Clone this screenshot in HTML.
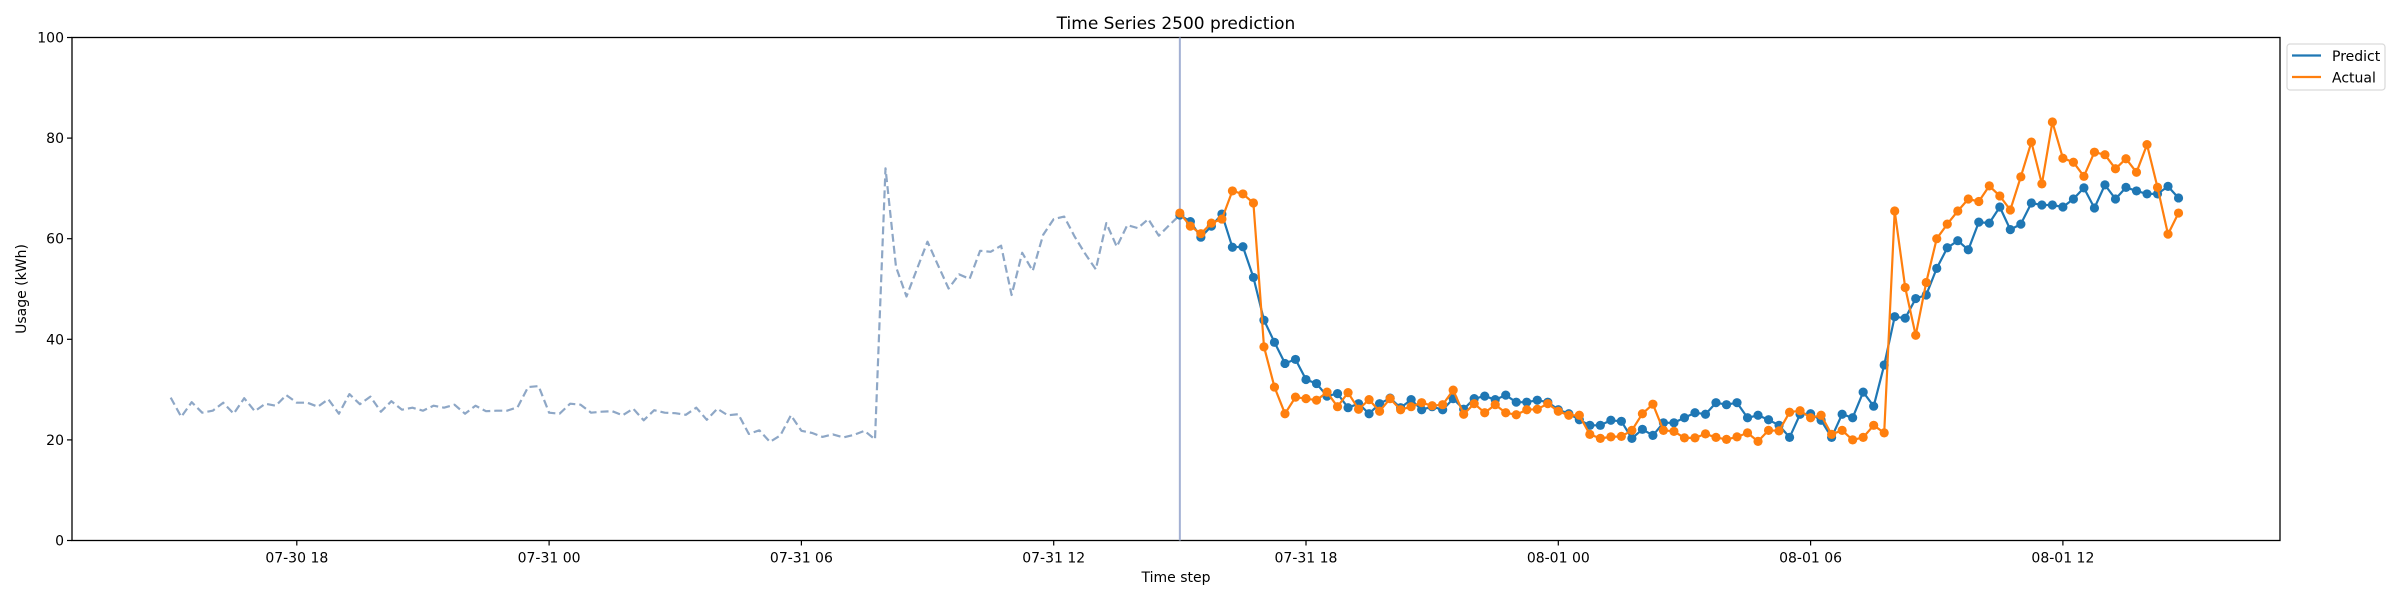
<!DOCTYPE html>
<html><head><meta charset="utf-8"><style>
html,body{margin:0;padding:0;background:#fff;}
svg text{font-family:"DejaVu Sans","Liberation Sans",sans-serif;fill:#000;}
</style></head><body>
<svg id="chart" width="2400" height="600" viewBox="0 0 2400 600" xmlns="http://www.w3.org/2000/svg">
<rect x="0" y="0" width="2400" height="600" fill="#fff"/>
<text x="1176" y="29" font-size="17" text-anchor="middle">Time Series 2500 prediction</text>
<g id="grid"></g>
<text x="1176" y="582" font-size="14" text-anchor="middle">Time step</text>
<text x="0" y="0" font-size="14" text-anchor="middle" transform="translate(26,289) rotate(-90)">Usage (kWh)</text>
<g>
<rect x="2287" y="44" width="98" height="46" rx="3" fill="#fff" stroke="#d9d9d9" stroke-width="1.2"/>
<line x1="2292" y1="55.5" x2="2321" y2="55.5" stroke="#1f77b4" stroke-width="2.2"/>
<text x="2332" y="61" font-size="14">Predict</text>
<line x1="2292" y1="77" x2="2321" y2="77" stroke="#ff7f0e" stroke-width="2.2"/>
<text x="2332" y="82.5" font-size="14">Actual</text>
</g>
</svg>
<script>
const histValues=[28.4,24.6,27.5,25.4,25.8,27.4,25.2,28.3,25.7,27.2,26.8,28.9,27.4,27.4,26.6,28.1,25.2,29.1,27.1,28.6,25.6,27.7,26.0,26.4,25.8,26.8,26.4,27.0,25.2,26.8,25.7,25.8,25.8,26.5,30.5,30.7,25.4,25.2,27.2,27.0,25.4,25.6,25.7,24.9,26.2,23.9,25.9,25.4,25.3,25.0,26.4,24.0,26.2,24.9,25.1,21.2,21.9,19.6,20.9,24.9,21.8,21.4,20.6,21.1,20.5,21.0,21.8,20.1,74.0,54.4,48.5,54.0,59.4,54.7,50.1,52.9,52.0,57.6,57.4,58.6,48.8,57.2,53.6,60.8,63.9,64.4,60.4,57.0,53.9,63.1,58.4,62.7,62.1,63.9,60.6,62.7,64.7];
const predValues=[64.7,63.4,60.3,62.5,64.9,58.3,58.4,52.3,43.8,39.4,35.2,36.0,32.0,31.2,28.7,29.2,26.4,27.2,25.2,27.2,28.3,26.4,28.0,26.0,26.6,26.0,28.2,26.1,28.2,28.7,28.0,28.9,27.5,27.5,27.9,27.5,26.0,25.2,24.0,22.9,22.9,23.9,23.7,20.3,22.1,20.9,23.4,23.4,24.4,25.4,25.1,27.4,27.0,27.4,24.4,24.9,24.0,22.9,20.5,25.1,25.2,23.9,20.5,25.1,24.4,29.5,26.7,34.9,44.5,44.2,48.1,48.8,54.1,58.2,59.6,57.8,63.3,63.1,66.3,61.8,62.9,67.1,66.7,66.7,66.3,67.9,70.1,66.1,70.7,67.9,70.2,69.5,68.9,68.9,70.4,68.1];
const actualValues=[65.1,62.5,61.0,63.1,63.9,69.5,68.9,67.1,38.5,30.5,25.2,28.5,28.2,27.9,29.5,26.6,29.4,26.1,28.0,25.7,28.2,26.0,26.6,27.4,26.8,27.0,29.9,25.1,27.2,25.4,27.0,25.4,25.0,26.0,26.1,27.2,25.7,24.9,24.9,21.1,20.3,20.6,20.7,21.9,25.2,27.1,21.9,21.7,20.4,20.4,21.2,20.5,20.1,20.6,21.4,19.7,21.9,21.8,25.5,25.8,24.4,24.9,21.1,21.9,20.0,20.5,22.9,21.4,65.5,50.3,40.8,51.3,60.0,62.9,65.5,67.9,67.4,70.5,68.5,65.7,72.3,79.2,70.9,83.2,76.0,75.2,72.4,77.2,76.7,73.9,75.9,73.2,78.7,70.2,60.9,65.1];
const yTicks=[0,20,40,60,80,100];
const xTickLabels=["07-30 18","07-31 00","07-31 06","07-31 12","07-31 18","08-01 00","08-01 06","08-01 12"];
const histStartHour=15;
const forecastStartHour=39;
const stepHours=0.25;

const NS="http://www.w3.org/2000/svg";
const L=72,R=2280,T=37.5,B=540.5;
function xScale(h){return 296.8+(h-18)*42.05;}
function yScale(v){return B-(v/100)*(B-T);}
const g=document.getElementById('grid');
function mk(tag,attrs,parent){const e=document.createElementNS(NS,tag);for(const k in attrs)e.setAttribute(k,attrs[k]);(parent||g).appendChild(e);return e;}

let frame=mk('rect',{x:L,y:T,width:R-L,height:B-T,fill:'none',stroke:'#000','stroke-width':1.3});



yTicks.forEach(v=>{
  const y=yScale(v);
  const t=mk('line',{x1:L-5,y1:y,x2:L,y2:y,stroke:'#000','stroke-width':1.2});
  
  
  const tx=mk('text',{x:L-8,y:y+5,'font-size':14,'text-anchor':'end'});
  tx.textContent=String(v);
  
  
});
xTickLabels.forEach((lab,i)=>{
  const x=xScale(18+i*6);
  const t=mk('line',{x1:x,y1:B,x2:x,y2:B+5,stroke:'#000','stroke-width':1.2});
  
  
  const tx=mk('text',{x:x,y:B+22,'font-size':14,'text-anchor':'middle'});
  tx.textContent=lab;
  
  
});

const histPts=histValues.map((v,i)=>xScale(histStartHour+i*stepHours).toFixed(1)+','+yScale(v).toFixed(1)).join(' ');
const hl=mk('polyline',{points:histPts,fill:'none',stroke:'#8ea7c6','stroke-width':2.2,'stroke-dasharray':'8,4','stroke-linejoin':'round'});



const vx=xScale(forecastStartHour);
const vl=mk('line',{x1:vx,y1:T,x2:vx,y2:B,stroke:'#a3b0d3','stroke-width':2});



function series(vals,color,name){
  const pts=vals.map((v,i)=>xScale(forecastStartHour+i*stepHours).toFixed(1)+','+yScale(v).toFixed(1)).join(' ');
  const pl=mk('polyline',{points:pts,fill:'none',stroke:color,'stroke-width':2.2,'stroke-linejoin':'round'});
  
  
  vals.forEach((v,i)=>{
    const c=mk('circle',{cx:xScale(forecastStartHour+i*stepHours),cy:yScale(v),r:4.6,fill:color});
    
    
  });
}
series(predValues,'#1f77b4','predict');
series(actualValues,'#ff7f0e','actual');
</script>
</body></html>
